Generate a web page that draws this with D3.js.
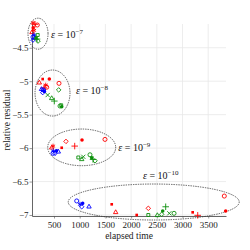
<!DOCTYPE html>
<html>
<head>
<meta charset="utf-8">
<script src="https://cdn.jsdelivr.net/npm/d3@7"></script>
<style>
  body { margin: 0; background: #fff; }
  svg { display: block; }
</style>
</head>
<body>
<svg id="chart" width="250" height="250"></svg>
<script>
// [elapsed time, relative residual, marker]
const redPoints = [
    [175, -4.16, "o"], [91, -4.13, "*"], [130, -4.15, "+"], [72, -4.27, "^"], [111, -4.24, "*"], [95, -4.2, "."],
    [214, -5.023, "^"], [280, -4.968, "sf"], [409, -4.968, "."], [597, -5.032, "o"], [339, -5.058, "*"], [358, -5.09, "o"], [305, -5.10, "+"],
    [455, -5.995, "^"], [481, -5.97, "*"], [650, -5.995, "sf"], [733, -5.90, "d"], [903, -5.97, "+"], [1045, -5.88, "."], [1492, -5.87, "o"],
    [1623, -6.84, "sf"], [1700, -6.96, "^"], [2109, -7.0, "sf"], [2335, -6.90, "d"], [3198, -6.96, "sf"], [3296, -7.005, "+"], [3813, -6.717, "o"], [3840, -6.94, "."]
];
const bluePoints = [
    [91, -4.34, "o"], [130, -4.355, "^"], [91, -4.385, "d"], [111, -4.31, "*"],
    [292, -5.13, "o"], [280, -5.17, "d"], [315, -5.155, "."], [257, -5.12, "^"], [300, -5.14, "*"],
    [486, -6.044, "*"], [481, -6.078, "o"], [519, -6.078, "d"], [584, -6.055, "^"], [549, -6.04, "."],
    [942, -6.79, "o"], [1006, -6.84, "*"], [1039, -6.877, "d"], [1058, -6.826, "."], [1181, -6.877, "^"]
];
const greenPoints = [
    [183, -4.31, "s"], [189, -4.40, "d"], [150, -4.355, "."], [170, -4.37, "+"],
    [591, -5.13, "d"], [377, -5.207, "x"], [455, -5.256, "^"], [506, -5.297, "+"], [617, -5.371, "o"], [650, -5.382, "."], [640, -5.36, "s"],
    [973, -6.14, "s"], [1039, -6.168, "^"], [1070, -6.13, "x"], [1200, -6.10, "o"], [1233, -6.145, "."], [1298, -6.19, "d"], [1260, -6.17, "+"],
    [2335, -7.0, "s"], [2510, -7.005, "^"], [2595, -6.99, "d"], [2615, -6.94, "."], [2673, -6.877, "+"], [2743, -6.975, "x"], [2835, -6.975, "o"]
];
// ellipse: centre time, centre residual, radius time, radius residual
const clusters = [
    [189, -4.29, 195, 0.232],
    [471, -5.177, 340, 0.344],
    [1039, -5.989, 661, 0.274],
    [2440, -6.806, 1663, 0.269]
];
// label: time, residual, exponent
const epsLabels = [
    [442, -4.295, "−7"],
    [928, -5.132, "−8"],
    [1751, -5.989, "−9"],
    [2231, -6.413, "−10"]
];
const xTicks = [500, 1000, 1500, 2000, 2500, 3000, 3500];
const yTicks = [-7, -6.5, -6, -5.5, -5, -4.5];

const margin = { top: 24, right: 24, bottom: 34, left: 32 };
const width = 250, height = 250;
const font = "'Liberation Serif', 'DejaVu Serif', serif";

const x = d3.scaleLinear().domain([72, 3846]).range([margin.left, width - margin.right]);
const y = d3.scaleLinear().domain([-7.015, -4.145]).range([height - margin.bottom, margin.top]);

const svg = d3.select("#chart");

// grid
svg.append("g")
    .attr("stroke", "#e8e8e8")
    .attr("stroke-width", 0.8)
    .call(g => g.selectAll("line.v").data(xTicks).join("line")
        .attr("x1", d => x(d)).attr("x2", d => x(d))
        .attr("y1", margin.top).attr("y2", height - margin.bottom))
    .call(g => g.selectAll("line.h").data(yTicks).join("line")
        .attr("y1", d => y(d)).attr("y2", d => y(d))
        .attr("x1", margin.left).attr("x2", width - margin.right));

// axes
const fmt = d => d3.format("")(d).replace("-", "−");
const xAxis = svg.append("g")
    .attr("transform", `translate(0,${height - margin.bottom})`)
    .call(d3.axisBottom(x).tickValues(xTicks).tickSize(2.5).tickSizeOuter(0).tickFormat(fmt));
const yAxis = svg.append("g")
    .attr("transform", `translate(${margin.left},0)`)
    .call(d3.axisLeft(y).tickValues(yTicks).tickSize(2.5).tickSizeOuter(0).tickFormat(fmt));
for (const ax of [xAxis, yAxis]) {
    ax.select(".domain").attr("stroke", "#555").attr("stroke-width", 0.9);
    ax.selectAll(".tick line").attr("stroke", "#555").attr("stroke-width", 0.6);
    ax.selectAll("text").attr("font-family", font).attr("font-size", 9).attr("fill", "#222");
}
xAxis.selectAll("text").attr("dy", "0.75em").attr("y", 5);
yAxis.selectAll("text").attr("x", -3.5);

// axis titles
svg.append("text")
    .attr("x", (margin.left + width - margin.right) / 2)
    .attr("y", 239)
    .attr("text-anchor", "middle")
    .attr("font-family", font).attr("font-size", 9.5).attr("fill", "#222")
    .text("elapsed time");
svg.append("text")
    .attr("transform", `translate(10,${(margin.top + height - margin.bottom) / 2}) rotate(-90)`)
    .attr("text-anchor", "middle")
    .attr("font-family", font).attr("font-size", 9.5).attr("fill", "#222")
    .text("relative residual");

// cluster ellipses
svg.append("g")
    .attr("fill", "none")
    .attr("stroke", "#333")
    .attr("stroke-width", 0.8)
    .attr("stroke-dasharray", "0.6,1.8")
    .attr("stroke-linecap", "round")
    .selectAll("ellipse")
    .data(clusters)
    .join("ellipse")
    .attr("cx", d => x(d[0]))
    .attr("cy", d => y(d[1]))
    .attr("rx", d => x(d[0] + d[2]) - x(d[0]))
    .attr("ry", d => y(d[1] - d[3]) - y(d[1]));

// epsilon labels
const lab = svg.append("g")
    .attr("font-family", font).attr("font-size", 10).attr("fill", "#111")
    .selectAll("text")
    .data(epsLabels)
    .join("text")
    .attr("x", d => x(d[0]))
    .attr("y", d => y(d[1]) + 3.5);
lab.append("tspan").attr("font-style", "italic").text("ε");
lab.append("tspan").text(" = 10");
lab.append("tspan").attr("font-size", 7).attr("dy", -4).text(d => d[2]);

// markers
const shapes = {
    "o": [d3.symbolCircle, 13, false],
    "^": [d3.symbolTriangle2, 14, false],
    "d": [d3.symbolDiamond2, 13, false],
    "s": [d3.symbolSquare2, 11, false],
    "*": [d3.symbolAsterisk, 16, false],
    "+": [d3.symbolPlus, 16, false],
    "x": [d3.symbolTimes, 13, false],
    ".": [d3.symbolCircle, 10, true],
    "sf": [d3.symbolSquare, 7, true]
};
const series = [
    [redPoints, "#ff0000"],
    [bluePoints, "#0000ff"],
    [greenPoints, "#0c900c"]
];
for (const [pts, color] of series) {
    svg.append("g")
        .selectAll("path")
        .data(pts)
        .join("path")
        .attr("transform", d => `translate(${x(d[0])},${y(d[1])})`)
        .attr("d", d => d3.symbol(shapes[d[2]][0], shapes[d[2]][1])())
        .attr("fill", d => shapes[d[2]][2] ? color : "none")
        .attr("stroke", d => shapes[d[2]][2] ? "none" : color)
        .attr("stroke-width", 0.9);
}
</script>
</body>
</html>
